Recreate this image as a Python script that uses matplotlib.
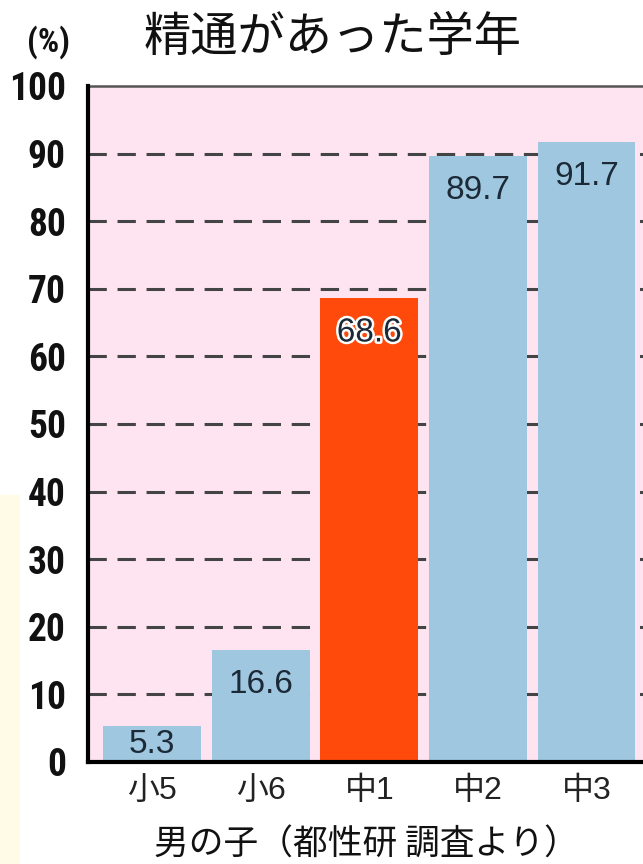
import matplotlib.pyplot as plt
import matplotlib.patheffects as pe
from matplotlib.patches import Rectangle

# データ
grades = ["小5", "小6", "中1", "中2", "中3"]
values = [5.3, 16.6, 68.6, 89.7, 91.7]
highlight = "中1"
yticks = [0, 10, 20, 30, 40, 50, 60, 70, 80, 90, 100]

blue = "#9fc7df"
red = "#ff4a0c"
pink = "#fde4f0"
jp = ["Noto Sans CJK JP", "DejaVu Sans"]
num = ["Liberation Sans Narrow", "Roboto Condensed", "Liberation Sans"]
lab = ["Liberation Sans", "DejaVu Sans"]

fig = plt.figure(figsize=(6.43, 8.64), dpi=100)
# 左側の淡い黄色の帯
fig.patches.append(Rectangle((0, 0), 20 / 643, 1 - 495 / 864, transform=fig.transFigure,
                             facecolor="#fffbe6", edgecolor="none", zorder=0))

ax = fig.add_axes([88 / 643, 102 / 864, 580 / 643, 676 / 864])
ax.set_facecolor(pink)

x = list(range(len(grades)))
colors = [red if g == highlight else blue for g in grades]
ax.bar(x, values, width=0.9, color=colors, zorder=3)

ax.set_xlim(-0.59, 4.75)
ax.set_ylim(0, 100)
ax.set_yticks(yticks)
ax.set_yticklabels([str(t) for t in yticks], family=num, fontweight="bold", fontsize=27,
                   color="#111111")
ax.set_xticks(x)
ax.set_xticklabels(grades, family=["Liberation Sans", "Noto Sans CJK JP"], fontsize=23,
                   color="#222222")
ax.tick_params(axis="y", length=0, pad=16)
ax.tick_params(axis="x", length=0, pad=10)

# 破線グリッド
for t in yticks[1:-1]:
    ax.axhline(t, color="#444444", lw=2.2, ls=(0, (6, 3.5)), zorder=1)

ax.spines["left"].set_linewidth(3)
ax.spines["bottom"].set_linewidth(3)
ax.spines["top"].set_linewidth(1.8)
ax.spines["top"].set_color("#555555")
ax.spines["right"].set_visible(False)
for s in ["left", "bottom"]:
    ax.spines[s].set_zorder(5)

# 値ラベル
for xi, v, g in zip(x, values, grades):
    if v < 10:
        t = ax.text(xi, v / 2, f"{v}", ha="center", va="center", fontsize=24,
                    family=lab, color="#1c2a38", zorder=6)
    else:
        t = ax.annotate(f"{v}", (xi, v), xytext=(0, -25), textcoords="offset points",
                        ha="center", va="center", fontsize=24, family=lab,
                        color="#1c2a38", zorder=6)
    if g == highlight:
        t.set_path_effects([pe.withStroke(linewidth=3.5, foreground="white")])

fig.text(48 / 643, 1 - 42 / 864, "(%)", ha="center", va="center", family=num,
         fontweight="bold", fontsize=24, color="#111111")
fig.text(333 / 643, 1 - 38 / 864, "精通があった学年", ha="center", va="center",
         family=jp, fontsize=34, color="#111111")
fig.text(366 / 643, 1 - 845 / 864, "男の子（都性研 調査より）", ha="center", va="center",
         family=jp, fontsize=25, color="#111111")

fig.savefig("out.png", dpi=100)
